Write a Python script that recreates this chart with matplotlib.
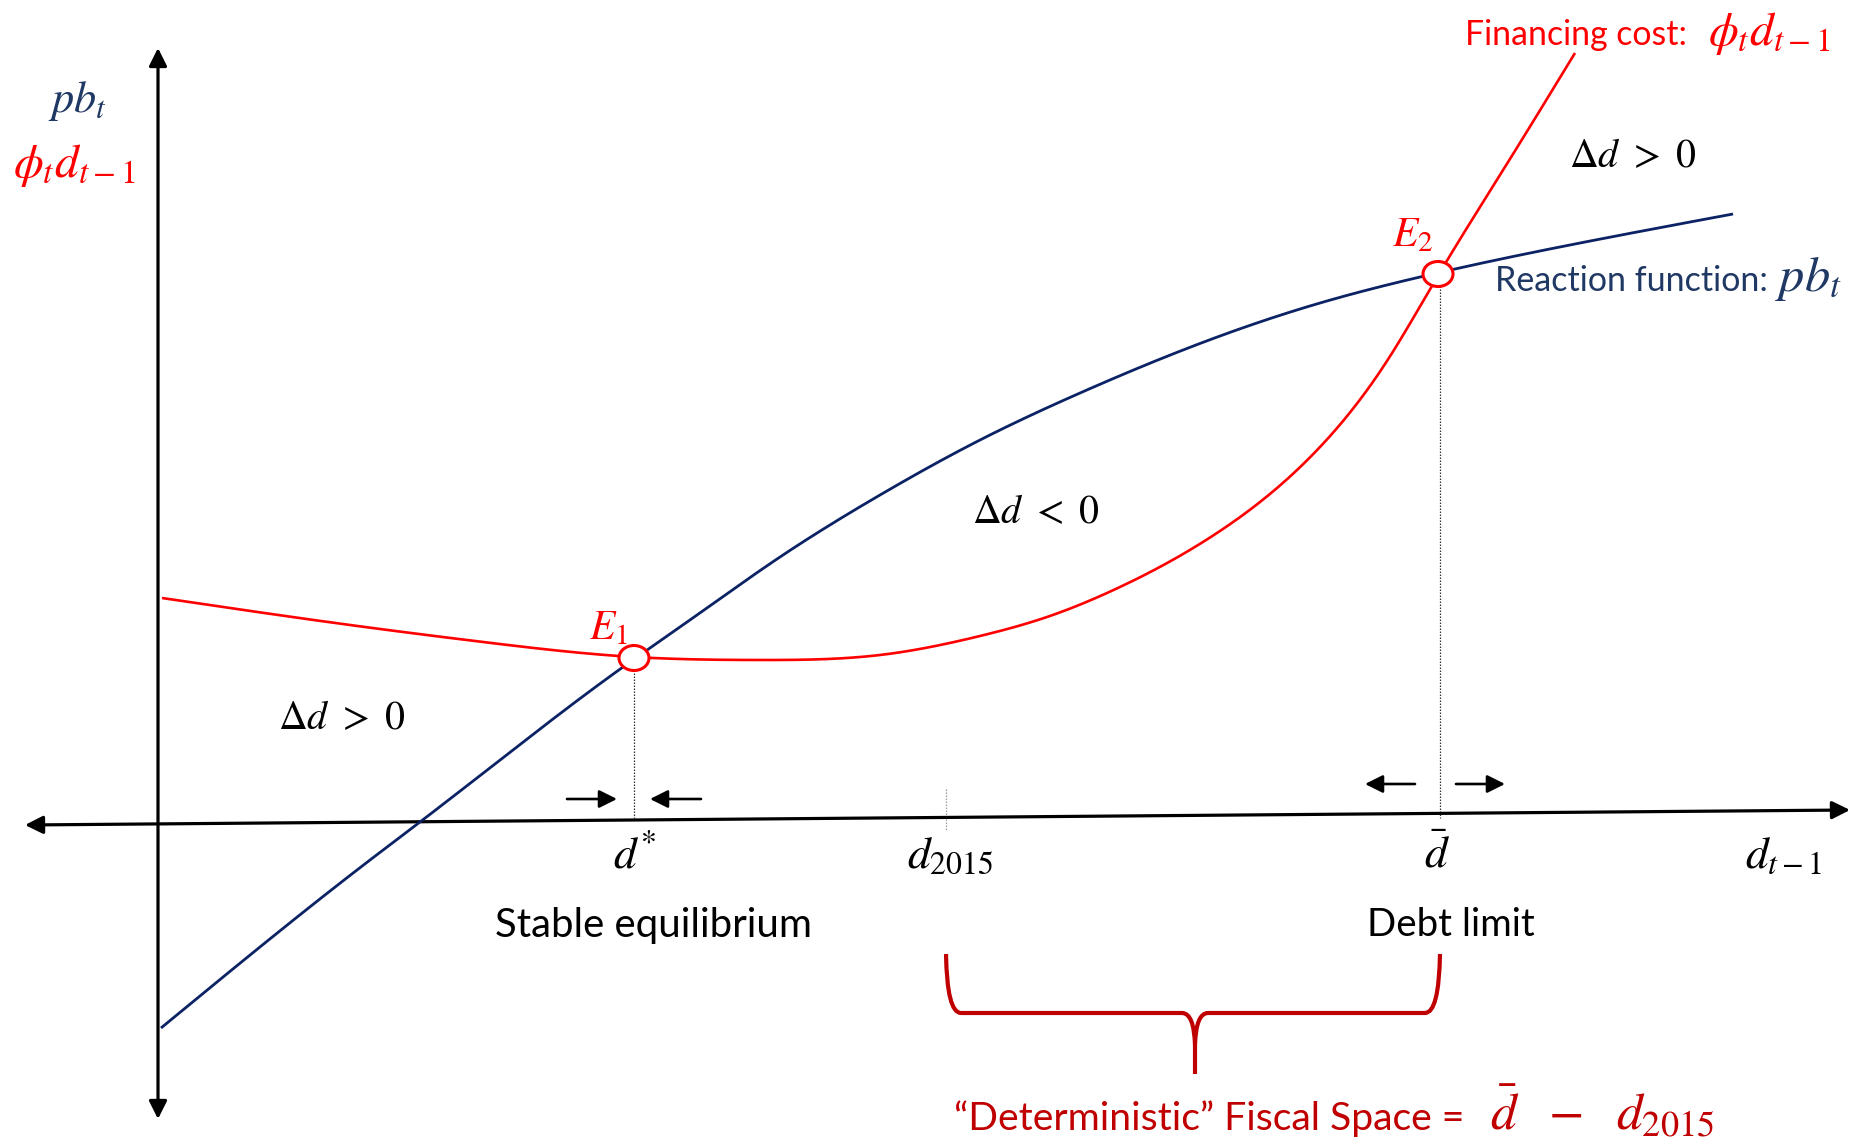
import numpy as np
import matplotlib
matplotlib.use("Agg")
import matplotlib.pyplot as plt
from matplotlib.patches import Ellipse, PathPatch
from matplotlib.path import Path

plt.rcParams['mathtext.fontset'] = 'stix'
plt.rcParams['font.family'] = ['Lato', 'DejaVu Sans']

# ---------------- data (diagram units, origin at axes crossing) ----------------
debt_pb = [3, 212, 262, 465, 522, 622, 722, 822, 922, 1062, 1162, 1262, 1422, 1575]
pb_vals = [-205, -37, 1, 156, 196, 266, 328, 383, 430, 487, 520, 546, 580, 609]

debt_fc = [4, 192, 325, 476, 602, 722, 822, 889, 962, 1062, 1162, 1229, 1281, 1347, 1417]
fc_vals = [225, 198, 181, 166, 163, 168, 187, 206, 236, 292, 376, 462, 549, 656, 770]

eq_debt = [476, 1280]
eq_vals = [165, 549]
eq_labels = [r'$E_1$', r'$E_2$']

d_star = 476
d_2015 = 788
d_bar = 1282

NAVY = '#0B2265'
NAVY_TXT = '#1F3864'
RED = '#FF0000'
DARKRED = '#C00000'

W, H = 1851, 1148
OX, OY = 158, 823  # pixel position of origin

fig = plt.figure(figsize=(W / 100, H / 100), dpi=100)
ax = fig.add_axes([0, 0, 1, 1])
ax.set_xlim(-OX, W - OX)
ax.set_ylim(OY - H, OY)
ax.axis('off')


def spline(xs, ys, n=600):
    """Natural cubic spline through the read points (drawing only)."""
    x = np.asarray(xs, float)
    y = np.asarray(ys, float)
    k = len(x)
    h = np.diff(x)
    A = np.zeros((k, k))
    rhs = np.zeros(k)
    A[0, 0] = A[-1, -1] = 1
    for i in range(1, k - 1):
        A[i, i - 1] = h[i - 1]
        A[i, i] = 2 * (h[i - 1] + h[i])
        A[i, i + 1] = h[i]
        rhs[i] = 6 * ((y[i + 1] - y[i]) / h[i] - (y[i] - y[i - 1]) / h[i - 1])
    M = np.linalg.solve(A, rhs)
    xn = np.linspace(x[0], x[-1], n)
    idx = np.clip(np.searchsorted(x, xn) - 1, 0, k - 2)
    x0, x1 = x[idx], x[idx + 1]
    hh = x1 - x0
    yn = (M[idx] * (x1 - xn) ** 3 / (6 * hh) + M[idx + 1] * (xn - x0) ** 3 / (6 * hh)
          + (y[idx] / hh - M[idx] * hh / 6) * (x1 - xn)
          + (y[idx + 1] / hh - M[idx + 1] * hh / 6) * (xn - x0))
    return xn, yn


# ---------------- axes arrows ----------------
ax.annotate('', xy=(0, 775), xytext=(0, -296),
            arrowprops=dict(arrowstyle='<|-|>', color='black', lw=2.3,
                            mutation_scale=27, shrinkA=0, shrinkB=0))
ax.annotate('', xy=(1692, 13), xytext=(-133, -2),
            arrowprops=dict(arrowstyle='<|-|>', color='black', lw=2.3,
                            mutation_scale=27, shrinkA=0, shrinkB=0))

# ---------------- curves ----------------
bx, by = spline(debt_pb, pb_vals)
ax.plot(bx, by, color=NAVY, lw=2.0, solid_capstyle='butt', zorder=3)
rx, ry = spline(debt_fc, fc_vals)
ax.plot(rx, ry, color=RED, lw=1.9, solid_capstyle='butt', zorder=3)

# dotted guide lines
ax.plot([d_star, d_star], [eq_vals[0] - 12, 5], color='#333333', lw=0.9,
        linestyle=(0, (1.2, 1.2)), zorder=2)
ax.plot([d_bar, d_bar], [eq_vals[1] - 12, 5], color='#333333', lw=0.9,
        linestyle=(0, (1.2, 1.2)), zorder=2)
ax.plot([d_2015, d_2015], [34, -7], color='#9a9a9a', lw=0.9,
        linestyle=(0, (1.2, 1.2)), zorder=2)

# equilibrium circles
for x, y in zip(eq_debt, eq_vals):
    ax.add_patch(Ellipse((x, y), 30, 25, facecolor='white', edgecolor=RED,
                         lw=2.2, zorder=5))

# small direction arrows
arrow_kw = dict(arrowstyle='-|>', color='black', lw=1.9, mutation_scale=27,
                shrinkA=0, shrinkB=0)
ax.annotate('', xy=(d_star - 17, 24), xytext=(d_star - 67, 24), arrowprops=arrow_kw)
ax.annotate('', xy=(d_star + 16, 24), xytext=(d_star + 67, 24), arrowprops=arrow_kw)
ax.annotate('', xy=(d_bar - 75, 39), xytext=(d_bar - 25, 39), arrowprops=arrow_kw)
ax.annotate('', xy=(d_bar + 65, 39), xytext=(d_bar + 16, 39), arrowprops=arrow_kw)

# brace
verts = [(788, -131), (789, -190), (803, -190),
         (1024, -190),
         (1036, -190), (1037, -222),
         (1037, -251),
         (1037, -222), (1038, -190), (1050, -190),
         (1267, -190),
         (1281, -190), (1282, -131)]
codes = [Path.MOVETO, Path.CURVE3, Path.CURVE3,
         Path.LINETO,
         Path.CURVE3, Path.CURVE3,
         Path.LINETO,
         Path.MOVETO, Path.CURVE3, Path.CURVE3,
         Path.LINETO,
         Path.CURVE3, Path.CURVE3]
ax.add_patch(PathPatch(Path(verts, codes), facecolor='none', edgecolor=DARKRED,
                       lw=3.0, capstyle='butt', joinstyle='round', zorder=3))

# ---------------- texts ----------------
fit = []


def txt(x, y, s, target=None, color='black', ha='left', va='baseline', fs=20, group=None):
    t = ax.text(x, y, s, color=color, ha=ha, va=va, fontsize=fs, zorder=6)
    if target is not None:
        fit.append((t, target, group or []))
    return t


txt(-110, 711, r'$pb_t$', 59, color=NAVY_TXT)
txt(-145, 646, r'$\phi_t d_{t-1}$', 122, color=RED)

txt(1307, 778, 'Financing cost:', 222, color=RED)
txt(1550, 778, r'$\phi_t d_{t-1}$', 122, color=RED)
txt(1337, 532, 'Reaction function:', 273, color=NAVY_TXT)
txt(1617, 532, r'$pb_t$', 67, color=NAVY_TXT)

txt(1475, 656, r'$\Delta d\ >\ 0$', 128, ha='center')
txt(878, 300, r'$\Delta d\ <\ 0$', 128, ha='center')
txt(184, 94, r'$\Delta d\ >\ 0$', 128, ha='center')

txt(431, 184, eq_labels[0], color=RED, fs=30)
txt(1234, 577, eq_labels[1], color=RED, fs=30)

g1 = txt(477, -45, r'$d^{*}$', ha='center')
g2 = txt(1279, -45, r'$\bar{d}$', ha='center')
g3 = txt(792, -45, r'$d_{2015}$', ha='center')
txt(1625, -45, r'$d_{t-1}$', 77, ha='center', group=[g1, g2, g3])

txt(495, -114, 'Stable equilibrium', 315, ha='center')
txt(1293, -113, 'Debt limit', 168, ha='center')

txt(796, -307, '\u201cDeterministic\u201d Fiscal Space =', 510, color=DARKRED)
txt(1332, -307, r'$\bar{d}\ \ -\ \ d_{2015}$', 224, color=DARKRED)

for _ in range(2):
    fig.canvas.draw()
    rend = fig.canvas.get_renderer()
    for t, target, group in fit:
        w = t.get_window_extent(rend).width
        t.set_fontsize(t.get_fontsize() * target / w)
        for g in group:
            g.set_fontsize(t.get_fontsize())

fig.savefig('out.png', dpi=100)
